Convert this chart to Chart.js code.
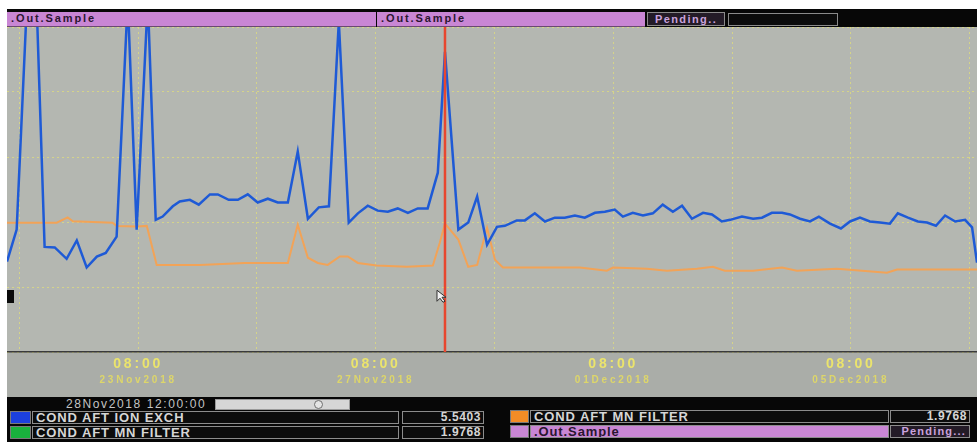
<!DOCTYPE html>
<html>
<head>
<meta charset="utf-8">
<script src="https://cdn.jsdelivr.net/npm/chart.js@4.4.1/dist/chart.umd.min.js"></script>
<style>
  html, body { margin: 0; padding: 0; }
  body { width: 977px; height: 442px; background: #ffffff; position: relative; overflow: hidden;
         font-family: "Liberation Sans", Arial, sans-serif; }
  .abs { position: absolute; box-sizing: border-box; white-space: nowrap; overflow: hidden; }
  #screen { left: 7px; top: 9px; width: 970px; height: 433px; background: #070707; }
  .bar { background: #c986d4; color: #2a1530; font-weight: bold; font-size: 11px; letter-spacing: 1.9px;
         line-height: 13px; padding-left: 4px; border-bottom: 1px solid #6a4a70; }
  .pend { background: #231b27; color: #c9a2dc; font-weight: bold; font-size: 11px; letter-spacing: 1.4px;
          line-height: 12px; padding-left: 7px; border: 1px solid #8a8a8a; }
  .blank { background: #0b0b0b; border: 1px solid #8a8a8a; }
  #plotWrap { left: 7px; top: 27px; width: 970px; height: 370px; background: #aaada8; }
  .name { background: #0c0c0c; border: 1px solid #8c8c8c; color: #d6d6d6; font-weight: bold; font-size: 13px;
          letter-spacing: 0.9px; line-height: 11px; padding-left: 3px; }
  .val { background: #0c0c0c; border: 1px solid #8c8c8c; color: #d6d6d6; font-weight: bold; font-size: 12px;
         letter-spacing: 0.6px; line-height: 11px; padding-right: 2px; text-align: right; }
  .sw { border: 1px solid #7a7a7a; }
  .stamp { color: #c4c4c4; font-size: 12px; letter-spacing: 1.6px; line-height: 11px; }
  .slider { background: #d6d6d6; border: 1px solid #9a9a9a; }
  .knob { width: 9px; height: 9px; border-radius: 50%; border: 1px solid #6f6f6f; background: #e4e4e4; }
  .pink { background: #c986d4; color: #2a1530; border: 1px solid #8c8c8c; font-weight: bold; font-size: 13px;
          letter-spacing: 0.9px; line-height: 11px; padding-left: 3px; }
  .pendv { background: #231b27; color: #c9a2dc; border: 1px solid #8c8c8c; font-weight: bold; font-size: 11px;
           letter-spacing: 1.2px; line-height: 11px; text-align: right; padding-right: 3px; }
</style>
</head>
<body>
<div id="screen" class="abs"></div>

<!-- pen header strip -->
<div class="abs bar" style="left:7px;top:12px;width:369px;height:15px;">.Out.Sample</div>
<div class="abs bar" style="left:377px;top:12px;width:268px;height:15px;">.Out.Sample</div>
<div class="abs pend" style="left:647px;top:12px;width:78px;height:14px;">Pending..</div>
<div class="abs blank" style="left:728px;top:13px;width:110px;height:13px;"></div>

<div id="plotWrap" class="abs"><canvas id="trend" width="970" height="370"></canvas></div>
<div class="abs" style="left:7px;top:290px;width:7px;height:13px;background:#0a0a0a;"></div>

<!-- cursor time and scroll slider -->
<div id="stamp" class="abs stamp" style="left:66px;top:399px;width:150px;height:11px;"></div>
<div class="abs slider" style="left:215px;top:399px;width:135px;height:11px;"></div>
<div class="abs knob" style="left:314px;top:400px;"></div>

<!-- pen legend rows -->
<div class="abs sw" style="left:10px;top:411px;width:21px;height:13px;background:#1c40de;"></div>
<div id="n1" class="abs name" style="left:32px;top:411px;width:367px;height:13px;"></div>
<div id="v1" class="abs val" style="left:402px;top:411px;width:82px;height:13px;"></div>
<div class="abs sw" style="left:10px;top:426px;width:21px;height:13px;background:#19b13d;"></div>
<div id="n2" class="abs name" style="left:32px;top:426px;width:367px;height:13px;"></div>
<div id="v2" class="abs val" style="left:402px;top:426px;width:82px;height:13px;"></div>

<div class="abs sw" style="left:510px;top:410px;width:19px;height:13px;background:#f28c26;"></div>
<div id="n3" class="abs name" style="left:530px;top:410px;width:359px;height:13px;"></div>
<div id="v3" class="abs val" style="left:890px;top:410px;width:80px;height:13px;"></div>
<div class="abs sw" style="left:510px;top:425px;width:19px;height:13px;background:#c986d4;"></div>
<div class="abs pink" style="left:530px;top:425px;width:359px;height:13px;">.Out.Sample</div>
<div class="abs pendv" style="left:890px;top:425px;width:80px;height:13px;">Pending...</div>

<script>
// Time axis is in hours relative to 23Nov2018 08:00.
const axisStartHour = -53;
const axisEndHour = 339;
const gridHours = [-48, 0, 48, 96, 144, 192, 240, 288, 336];
const labelHours = [0, 96, 192, 288];
const timeLabels = ['08:00', '08:00', '08:00', '08:00'];
const dateLabels = ['23Nov2018', '27Nov2018', '01Dec2018', '05Dec2018'];

const cursorHour = 124;
const cursorStamp = '28Nov2018 12:00:00';

const penNames = ['COND AFT ION EXCH', 'COND AFT MN FILTER', 'COND AFT MN FILTER'];

// COND AFT ION EXCH samples
const ionHours = [
  -53, -49.1, -45.0, -41.0, -37.8, -33.7, -28.9, -24.8, -20.8, -16.7, -13.1, -8.7, -4.2, -0.6, 3.9,
  7.1, 9.9, 14.0, 16.8, 20.9, 24.5, 29.0, 32.2, 36.6, 40.3, 44.3, 48.3, 52.4, 56.4, 60.5,
  64.5, 68.6, 73.0, 77.1, 81.1, 85.1, 88.8, 92.8, 96.8, 100.9, 104.9, 109.0, 113.0, 117.0, 121.1,
  124, 129.4, 133.4, 137.0, 141.0, 145.0, 148.2, 153.0, 156.3, 160.3, 164.4, 168.4, 172.4, 176.5,
  180.5, 184.6, 188.6, 192.6, 195.9, 199.9, 204.0, 208.0, 212.0, 216.1, 219.8, 223.8, 228.3, 231.9,
  235.9, 239.2, 244.0, 248.5, 252.1, 256.1, 260.2, 263.4, 267.5, 271.5, 275.1, 279.6, 284.0, 287.7,
  291.7, 295.7, 299.8, 303.8, 307.0, 311.1, 315.1, 318.8, 322.4, 326.1, 330.2, 334.2, 337.0, 339
];
const ionValues = [
  1.67, 2.26, 6.4, 6.4, 1.94, 1.93, 1.72, 2.06, 1.56, 1.76, 1.83, 2.13, 6.5, 2.26, 6.5,
  2.44, 2.50, 2.69, 2.78, 2.81, 2.72, 2.91, 2.91, 2.81, 2.81, 2.91, 2.76, 2.83, 2.76, 2.76,
  3.70, 2.46, 2.67, 2.69, 6.1, 2.39, 2.56, 2.70, 2.61, 2.59, 2.65, 2.57, 2.65, 2.65, 3.31,
  5.5403, 2.26, 2.39, 2.87, 1.98, 2.31, 2.33, 2.43, 2.43, 2.56, 2.41, 2.48, 2.48, 2.52,
  2.48, 2.57, 2.59, 2.63, 2.50, 2.57, 2.52, 2.56, 2.72, 2.59, 2.70, 2.46, 2.57, 2.54,
  2.41, 2.44, 2.50, 2.46, 2.48, 2.57, 2.57, 2.54, 2.46, 2.41, 2.50, 2.37, 2.28, 2.41,
  2.48, 2.41, 2.39, 2.37, 2.56, 2.48, 2.41, 2.39, 2.33, 2.52, 2.41, 2.44, 2.30, 1.65
];

// COND AFT MN FILTER samples
const mnHours = [
  -53, -32.9, -28.5, -26.4, -10.3, -8.7, -0.6, 3.5, 7.5, 24.9, 43.1, 60.5, 64.5, 68.6, 72.6,
  76.6, 81.5, 84.7, 88.8, 96.4, 108.6, 119.1, 121.9, 124, 129.4, 133.4, 137.0, 141.0, 144.2,
  147.4, 158.3, 178.5, 189.4, 191.9, 205.6, 213.7, 225.8, 232.3, 237.1, 248.5, 260.2, 266.2,
  282.4, 302.6, 306.7, 339
];
const mnValues = [
  1.99, 1.99, 2.07, 2.01, 1.99, 1.94, 1.93, 1.94, 1.34, 1.34, 1.37, 1.37, 1.96, 1.45, 1.37,
  1.34, 1.47, 1.47, 1.37, 1.33, 1.31, 1.33, 1.68, 1.9768, 1.73, 1.31, 1.34, 1.91, 1.42,
  1.30, 1.30, 1.30, 1.25, 1.30, 1.28, 1.25, 1.28, 1.31, 1.25, 1.25, 1.30, 1.25,
  1.28, 1.22, 1.27, 1.27
];

const toPoints = (xs, ys) => xs.map((x, i) => ({ x: x, y: ys[i] }));
const atCursor = (xs, ys) => ys[xs.indexOf(cursorHour)].toFixed(4);

document.getElementById('stamp').textContent = cursorStamp;
document.getElementById('n1').textContent = penNames[0];
document.getElementById('n2').textContent = penNames[1];
document.getElementById('n3').textContent = penNames[2];
document.getElementById('v1').textContent = atCursor(ionHours, ionValues);
document.getElementById('v2').textContent = atCursor(mnHours, mnValues);
document.getElementById('v3').textContent = atCursor(mnHours, mnValues);

const plotFill = {
  id: 'plotFill',
  beforeDraw(chart) {
    const a = chart.chartArea, c = chart.ctx;
    c.save();
    c.fillStyle = '#b4b7b1';
    c.fillRect(a.left, a.top, a.right - a.left, a.bottom - a.top);
    c.restore();
    c.letterSpacing = '2.8px';
  },
  afterDraw(chart) {
    chart.ctx.letterSpacing = '0px';
  }
};

const cursorLine = {
  id: 'cursorLine',
  afterDatasetsDraw(chart) {
    const a = chart.chartArea, c = chart.ctx;
    const px = chart.scales.x.getPixelForValue(cursorHour);
    c.save();
    c.strokeStyle = '#e8472f';
    c.lineWidth = 2.5;
    c.beginPath();
    c.moveTo(px, a.top);
    c.lineTo(px, a.bottom);
    c.stroke();
    // mouse pointer resting next to the cursor
    const tx = px - 8, ty = chart.scales.y2.getPixelForValue(0.95);
    c.fillStyle = '#f2f2f2';
    c.strokeStyle = '#303030';
    c.lineWidth = 1;
    c.beginPath();
    c.moveTo(tx, ty);
    c.lineTo(tx, ty + 11);
    c.lineTo(tx + 3, ty + 8);
    c.lineTo(tx + 6, ty + 12);
    c.lineTo(tx + 8, ty + 11);
    c.lineTo(tx + 5, ty + 7);
    c.lineTo(tx + 9, ty + 7);
    c.closePath();
    c.fill();
    c.stroke();
    c.restore();
  }
};

const dotted = 'rgba(226, 224, 118, 0.7)';

new Chart(document.getElementById('trend'), {
  type: 'line',
  data: {
    datasets: [
      { label: penNames[0], data: toPoints(ionHours, ionValues), yAxisID: 'y',
        borderColor: '#1e5ad6', borderWidth: 2.5, pointRadius: 0, tension: 0 },
      { label: penNames[1], data: toPoints(mnHours, mnValues), yAxisID: 'y2',
        borderColor: '#f2a357', borderWidth: 2, pointRadius: 0, tension: 0 }
    ]
  },
  options: {
    responsive: false,
    animation: false,
    devicePixelRatio: 1,
    layout: { padding: 0 },
    plugins: { legend: { display: false }, tooltip: { enabled: false } },
    scales: {
      x: {
        type: 'linear', position: 'bottom', min: axisStartHour, max: axisEndHour,
        afterBuildTicks: s => { s.ticks = gridHours.map(v => ({ value: v })); },
        afterFit: s => { s.height = 21; },
        grid: { color: dotted, lineWidth: 1, drawTicks: false },
        border: { display: true, color: '#3a3a3a', width: 1.5, dash: [2, 3] },
        ticks: {
          autoSkip: false, maxRotation: 0, padding: 4, color: '#ebe46c',
          font: { family: 'Liberation Sans', size: 14, weight: 'bold' },
          callback: v => { const i = labelHours.indexOf(v); return i < 0 ? '' : timeLabels[i]; }
        }
      },
      x2: {
        type: 'linear', position: 'bottom', min: axisStartHour, max: axisEndHour,
        afterBuildTicks: s => { s.ticks = labelHours.map(v => ({ value: v })); },
        afterFit: s => { s.height = 24; },
        grid: { display: false, drawTicks: false },
        border: { display: false },
        ticks: {
          autoSkip: false, maxRotation: 0, padding: 1, color: '#ddd66a',
          font: { family: 'Liberation Sans', size: 10, weight: 'bold' },
          callback: v => { const i = labelHours.indexOf(v); return i < 0 ? '' : dateLabels[i]; }
        }
      },
      y: { display: false, min: 0, max: 6 },
      y2: {
        position: 'left', min: 0, max: 5,
        afterFit: s => { s.width = 0; },
        ticks: { display: false, stepSize: 1 },
        grid: { color: dotted, lineWidth: 1, drawTicks: false },
        border: { display: false, dash: [2, 3] }
      }
    }
  },
  plugins: [plotFill, cursorLine]
});
</script>
</body>
</html>
